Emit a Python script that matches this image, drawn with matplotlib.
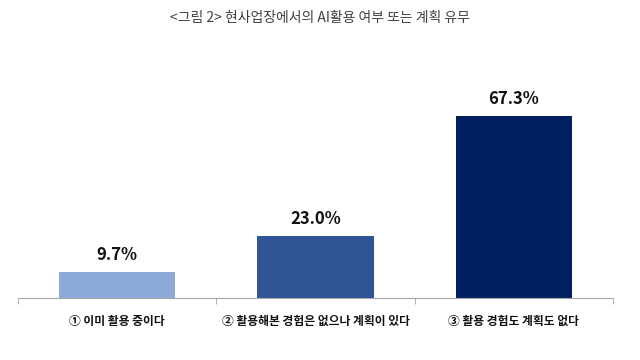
import matplotlib
matplotlib.use('Agg')
import matplotlib.pyplot as plt

plt.rcParams['font.family'] = ['Noto Sans CJK KR', 'DejaVu Sans']

categories = ['① 이미 활용 중이다', '② 활용해본 경험은 없으나 계획이 있다', '③ 활용 경험도 계획도 없다']
values = [9.7, 23.0, 67.3]
colors = ['#8eaadb', '#2f5597', '#002060']
title = '<그림 2> 현사업장에서의 AI활용 여부 또는 계획 유무'

fig = plt.figure(figsize=(6.4, 3.6), dpi=100)
ax = fig.add_axes([0.028, 0.172, 0.93, 0.6])

x = range(len(categories))
bars = ax.bar(x, values, width=0.585, color=colors)
for b, v in zip(bars, values):
    ax.annotate(f'{v:.1f}%', (b.get_x() + b.get_width() / 2, v),
                xytext=(0, 6), textcoords='offset points',
                ha='center', va='bottom', fontsize=12, fontweight='bold', color='#111111')

ax.set_xlim(-0.5, 2.5)
ax.set_ylim(0, 80)
ax.set_xticks(list(x))
ax.set_xticklabels(categories, fontsize=8.5, fontweight='bold', color='#111111')
ax.set_xticks([-0.5, 0.5, 1.5, 2.5], minor=True)
ax.tick_params(axis='x', which='major', length=0, pad=12)
ax.tick_params(axis='x', which='minor', length=4, color='#a6a6a6')
ax.set_yticks([])
for s in ['top', 'right', 'left']:
    ax.spines[s].set_visible(False)
ax.spines['bottom'].set_color('#a6a6a6')

fig.text(0.5, 0.95, title, ha='center', va='center', fontsize=10, color='#404040')

fig.savefig('out.png', dpi=100)
